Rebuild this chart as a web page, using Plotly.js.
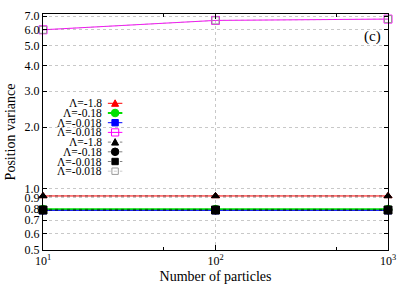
<!DOCTYPE html>
<html><head><meta charset="utf-8">
<script src="https://cdn.plot.ly/plotly-3.0.1.min.js"></script>
<style>html,body{margin:0;padding:0;background:#fff}#g{width:409px;height:287px}</style>
</head><body><div id="g"></div>
<script>
// ---- data ----
const N = [10, 100, 1000];
const red = [0.92, 0.92, 0.92];
const green = [0.792, 0.792, 0.792];
const blue = [0.782, 0.782, 0.782];
const magenta = [6.0, 6.67, 6.77];
const blackTri = [0.92, 0.92, 0.92];
const blackCirc = [0.785, 0.785, 0.785];
const blackSq = [0.785, 0.785, 0.785];
const grayOpen = [6.0, 6.67, 6.77];
const seriesNames = ['Λ=-1.8','Λ=-0.18','Λ=-0.018','Λ=-0.018','Λ=-1.8','Λ=-0.18','Λ=-0.018','Λ=-0.018'];
const yTickVals = [0.5,0.6,0.7,0.8,0.9,1.0,2.0,3.0,4.0,5.0,6.0,7.0];
const yTickText = ['0.5','0.6','0.7','0.8','0.9','1.0','2.0','3.0','4.0','5.0','6.0','7.0'];
const xTickVals = [10, 100, 1000];
const xTickText = ['10<sup>1</sup>','10<sup>2</sup>','10<sup>3</sup>'];
const xMinorVals = [50, 500];

// ---- styles ----
const seriesY = [red, green, blue, magenta, blackTri, blackCirc, blackSq, grayOpen];
const styles = [
  {color:'#ff0000', sym:'triangle-up', size:7, dash:'solid', w:1, kind:'tri', fill:true},
  {color:'#00e000', sym:'circle', size:8, dash:'solid', w:2, kind:'circ', fill:true},
  {color:'#0000ff', sym:'square', size:7, dash:'solid', w:1, kind:'sq', fill:true},
  {color:'#ff00ff', sym:'square-open', size:8, dash:'solid', w:1, kind:'sq', fill:false, big:true},
  {color:'#000000', sym:'triangle-up', size:7, dash:'dot', w:0.5, kind:'tri', fill:true},
  {color:'#000000', sym:'circle', size:8, dash:'dot', w:0.5, kind:'circ', fill:true},
  {color:'#000000', sym:'square', size:8, dash:'dot', w:0.5, kind:'sq', fill:true},
  {color:'#999999', sym:'square-open', size:7, dash:'dot', w:0.5, kind:'sq', fill:false}
];

const traces = seriesY.map((ys, i) => ({
  x: N, y: ys, name: seriesNames[i], type: 'scatter', mode: 'lines+markers',
  cliponaxis: false, showlegend: false,
  line: {color: styles[i].color, width: styles[i].w, dash: styles[i].dash},
  marker: {symbol: styles[i].sym, size: styles[i].size, color: styles[i].color,
           line: {color: styles[i].color, width: 1}}
}));

const serif = 'Times New Roman, Liberation Serif, DejaVu Serif, serif';
const annotations = [];
const shapes = [];
const lx = 0.174, sx = 0.209, y0 = 0.6216, dy = 0.0411;
seriesNames.forEach((nm, i) => {
  const yy = y0 - i * dy;
  const st = styles[i];
  annotations.push({xref:'paper', yref:'paper', x: lx, y: yy, xanchor:'right', yanchor:'middle',
    text: nm, showarrow:false, borderpad:0, font:{family:serif, size:11.5, color:'#000'}});
  shapes.push({type:'line', xref:'paper', yref:'paper', x0: sx-0.021, x1: sx+0.021, y0: yy, y1: yy,
    line:{color: st.color, width: st.w, dash: st.dash}});
  const base = {xref:'paper', yref:'paper', xsizemode:'pixel', ysizemode:'pixel', xanchor: sx, yanchor: yy,
    fillcolor: st.fill ? st.color : 'rgba(0,0,0,0)', line:{color: st.color, width:1}};
  const r = st.big ? 3.6 : 3.2;
  if (st.kind === 'tri') {
    shapes.push(Object.assign({type:'path', path:'M-3.5,-3 L3.5,-3 L0,3.5 Z'}, base));
  } else if (st.kind === 'circ') {
    shapes.push(Object.assign({type:'circle', x0:-3.8, x1:3.8, y0:-3.8, y1:3.8}, base));
  } else {
    shapes.push(Object.assign({type:'rect', x0:-r, x1:r, y0:-r, y1:r}, base));
  }
});
annotations.push({xref:'paper', yref:'paper', x: 0.985, y: 0.905, xanchor:'right', yanchor:'middle',
  text:'(c)', showarrow:false, font:{family:serif, size:15, color:'#000'}});

const axisCommon = {
  showline:true, mirror:'ticks', linecolor:'#000', linewidth:1,
  ticks:'inside', ticklen:5, tickcolor:'#000',
  showgrid:true, gridcolor:'#c8c8c8', griddash:'dot', gridwidth:1,
  zeroline:false, tickfont:{family:serif, size:12, color:'#000'}
};

const layout = {
  width:409, height:287, paper_bgcolor:'#fff', plot_bgcolor:'#fff',
  margin:{l:43, r:21, t:14, b:37},
  showlegend:false,
  font:{family:serif, color:'#000'},
  xaxis: Object.assign({}, axisCommon, {type:'log', range:[1,3], tickvals:xTickVals, ticktext:xTickText,
    minor:{tickmode:'array', tickvals:xMinorVals, ticks:'inside', ticklen:3, tickcolor:'#000', showgrid:false},
    title:{text:'Number of particles', font:{family:serif, size:14, color:'#000'}, standoff:3}}),
  yaxis: Object.assign({}, axisCommon, {type:'log', range:[Math.log10(0.5), Math.log10(7.17)],
    tickvals:yTickVals, ticktext:yTickText, ticklen:4,
    title:{text:'Position variance', font:{family:serif, size:14, color:'#000'}, standoff:5}}),
  annotations: annotations, shapes: shapes
};

Plotly.newPlot('g', traces, layout, {staticPlot:true, displayModeBar:false});
</script></body></html>
